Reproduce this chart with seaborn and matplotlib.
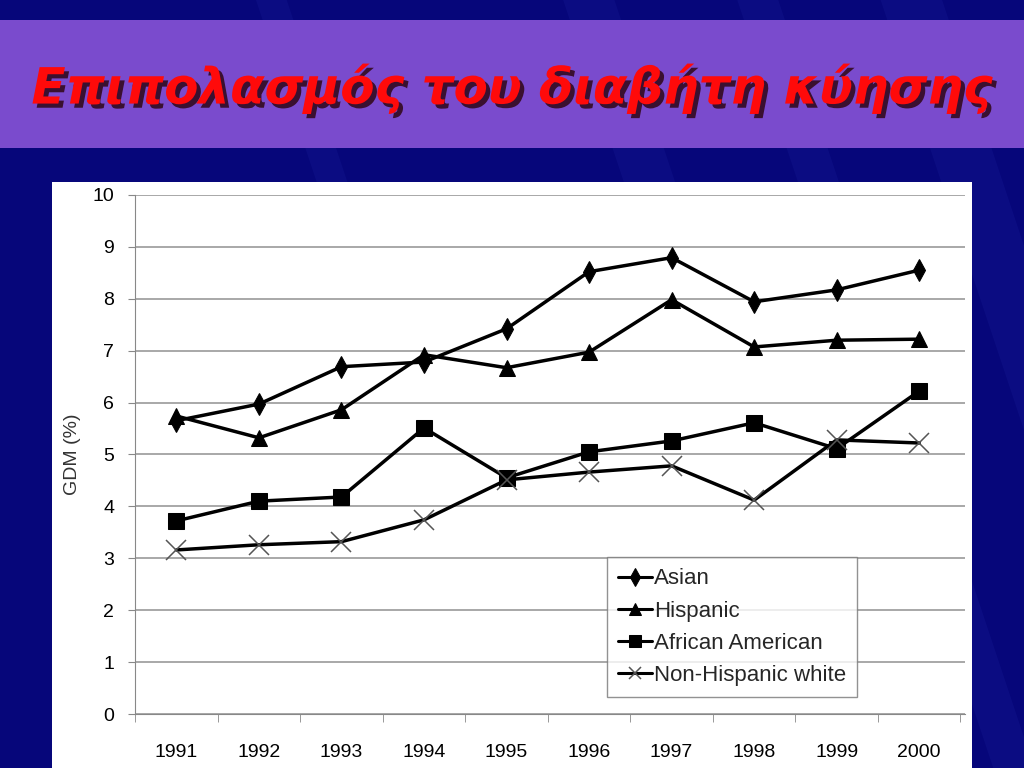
import matplotlib
matplotlib.use("Agg")
import matplotlib.pyplot as plt
import matplotlib.patches as mpatches
import matplotlib.patheffects as pe
import seaborn as sns
import pandas as pd

years = ["1991", "1992", "1993", "1994", "1995", "1996", "1997", "1998", "1999", "2000"]
asian = [5.65, 5.97, 6.69, 6.78, 7.42, 8.52, 8.79, 7.94, 8.17, 8.55]
hispanic = [5.74, 5.32, 5.86, 6.92, 6.67, 6.97, 7.98, 7.07, 7.20, 7.22]
african_american = [3.72, 4.10, 4.18, 5.51, 4.55, 5.05, 5.26, 5.61, 5.11, 6.22]
non_hispanic_white = [3.16, 3.26, 3.32, 3.74, 4.51, 4.66, 4.78, 4.12, 5.28, 5.22]

groups = ["Asian", "Hispanic", "African American", "Non-Hispanic white"]
series = [asian, hispanic, african_american, non_hispanic_white]
markers = ["d", "^", "s", "x"]

sns.set_style("white")
tick_font = {"family": "Liberation Sans", "stretch": "condensed"}

fig = plt.figure(figsize=(10.24, 7.68), dpi=100)
fig.patch.set_facecolor("#06067a")

# a few faint diagonal streaks on the slide background
for x0, w in [(0.55, 0.05), (0.72, 0.04), (0.86, 0.06), (0.25, 0.03)]:
    fig.patches.append(mpatches.Polygon([(x0, 1), (x0 + w, 1), (x0 + w + 0.25, 0), (x0 + 0.25, 0)],
                                        closed=True, transform=fig.transFigure,
                                        facecolor="#3a4ad0", alpha=0.1, edgecolor="none", zorder=0))

# title band and white chart panel
fig.patches.append(mpatches.Rectangle((0, 0.807), 1, 0.167, transform=fig.transFigure,
                                      facecolor="#7a4bcd", edgecolor="none", zorder=1))
fig.patches.append(mpatches.Rectangle((0.0508, 0), 0.898, 0.763, transform=fig.transFigure,
                                      facecolor="white", edgecolor="none", zorder=1))

title = "Επιπολασμός του διαβήτη κύησης"
fig.text(0.5, 0.885, title, ha="center", va="center", fontsize=36, style="italic",
         fontweight="bold", color="#ff0a0a", family="DejaVu Sans", zorder=3,
         path_effects=[pe.SimplePatchShadow(offset=(3, -3), shadow_rgbFace="#3a1030", alpha=1.0),
                       pe.Normal()])

ax = fig.add_axes([0.132, 0.0703, 0.810, 0.676])
ax.set_zorder(2)
ax.set_facecolor("white")

for g, vals, m in zip(groups, series, markers):
    d = pd.DataFrame({"year": years, "gdm": vals})
    if m == "x":
        sns.lineplot(data=d, x="year", y="gdm", ax=ax, label=g, color="black", linewidth=2.5,
                     marker=m, markersize=14, markeredgewidth=1.1, markeredgecolor="#555555",
                     sort=False)
    else:
        sns.lineplot(data=d, x="year", y="gdm", ax=ax, label=g, color="black", linewidth=2.5,
                     marker=m, markersize=11 if m != "s" else 12, markeredgecolor="black",
                     sort=False)

ax.set_ylim(0, 10)
ax.set_xlim(-0.5, 9.55)
ax.set_yticks(range(0, 11))
ax.yaxis.grid(True, color="#9a9a9a", linewidth=1.2)
ax.set_axisbelow(True)
for s in ["top", "right"]:
    ax.spines[s].set_visible(False)
ax.spines["left"].set_color("#888888")
ax.spines["bottom"].set_color("#888888")
ax.tick_params(axis="y", left=True, length=5, color="#888888", labelsize=14, pad=10)
ax.tick_params(axis="x", bottom=False, labelsize=14, pad=18)
ax.set_xticks(range(10))
ax.set_xticklabels(years)
ax.set_xticks([i + 0.5 for i in range(-1, 10)], minor=True)
ax.tick_params(axis="x", which="minor", bottom=True, length=6, color="#888888")
for lab in ax.get_xticklabels() + ax.get_yticklabels():
    lab.set_family(tick_font["family"])
    lab.set_stretch(tick_font["stretch"])
    lab.set_color("black")
ax.set_xlabel("")
ax.set_ylabel("GDM (%)", fontsize=14, color="#333333", family="Liberation Sans")
ax.yaxis.set_label_coords(-0.065, 0.5)

handles, labels = ax.get_legend_handles_labels()
leg = ax.legend(handles, labels, loc="lower left", bbox_to_anchor=(0.569, 0.033),
                borderaxespad=0, frameon=True, fancybox=False, handlelength=1.5,
                handletextpad=0.1, labelspacing=0.5, borderpad=0.5,
                prop={"family": "Liberation Sans", "size": 16, "stretch": "condensed"},
                edgecolor="#777777")
leg.get_frame().set_linewidth(1.0)
for h in leg.legend_handles:
    h.set_linewidth(2.2)
    h.set_markersize(9)

fig.savefig("out.png", dpi=100, facecolor=fig.get_facecolor())
